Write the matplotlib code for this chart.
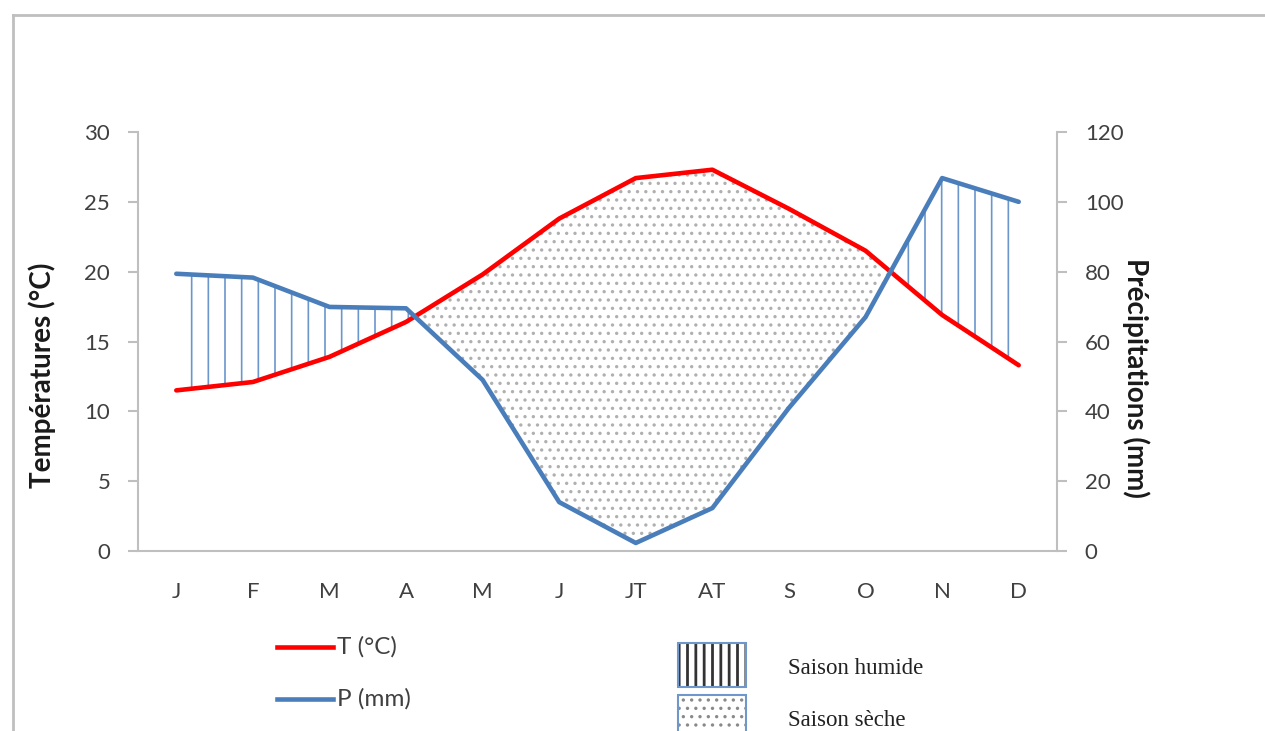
import numpy as np
import matplotlib
matplotlib.use("Agg")
import matplotlib.pyplot as plt
from matplotlib.lines import Line2D
from matplotlib.patches import Rectangle

months = ["J", "F", "M", "A", "M", "J", "JT", "AT", "S", "O", "N", "D"]
temp = [11.5, 12.1, 13.9, 16.4, 19.8, 23.8, 26.7, 27.3, 24.5, 21.5, 16.9, 13.3]
precip = [79.4, 78.3, 69.9, 69.5, 49.0, 14.0, 2.3, 12.3, 41.0, 67.0, 106.8, 100.0]

plt.rcParams['font.family'] = ['Lato', 'DejaVu Sans']
plt.rcParams['hatch.linewidth'] = 1.2

W, H = 1265, 731
fig = plt.figure(figsize=(W / 100, H / 100), dpi=100)

def fx(px):
    return px / W

def fy(py):
    return 1 - py / H

ax = fig.add_axes([fx(138), fy(551), fx(1057) - fx(138), fy(132) - fy(551)])
ax2 = ax.twinx()

x = np.arange(len(months))
t = np.array(temp)
p4 = np.array(precip) / 4.0  # precip on the temperature scale (120 mm <-> 30 C)

# saisons
ax.fill_between(x, t, p4, where=p4 >= t, interpolate=True, facecolor='none',
                edgecolor='#6a96cc', hatch='|', linewidth=0)
ax.fill_between(x, t, p4, where=p4 <= t, interpolate=True, facecolor='none',
                edgecolor='#b0b0b0', hatch='..', linewidth=0)

ax.plot(x, t, color='#ff0000', lw=3.3, solid_capstyle='round', zorder=3)
ax2.plot(x, precip, color='#4a7ebb', lw=3.3, solid_capstyle='round', zorder=3)

ax.set_xlim(-0.5, 11.5)
ax.set_ylim(0, 30)
ax2.set_ylim(0, 120)
ax.set_yticks(range(0, 31, 5))
ax2.set_yticks(range(0, 121, 20))
ax.set_xticks(x)
ax.set_xticklabels(months)

grey = '#bfbfbf'
txt = '#404040'
for a in (ax, ax2):
    for s in a.spines.values():
        s.set_visible(False)
        s.set_color(grey)
        s.set_linewidth(1.5)
ax.spines['left'].set_visible(True)
ax.spines['bottom'].set_visible(True)
ax2.spines['right'].set_visible(True)

ax.tick_params(axis='y', length=7, width=1.5, color=grey, labelsize=16,
               labelcolor=txt, pad=13)
ax2.tick_params(axis='y', length=7, width=1.5, color=grey, labelsize=16,
                labelcolor=txt, pad=13)
ax.tick_params(axis='x', length=0, labelsize=16, labelcolor=txt, pad=22)

ax.set_ylabel("Températures (°C)", fontsize=20, fontweight='bold', color='#1a1a1a')
ax.yaxis.set_label_coords(-0.089, 0.42)
ax2.set_ylabel("Précipitations (mm)", fontsize=20, fontweight='bold',
               color='#1a1a1a', rotation=270, va='center')
ax2.yaxis.set_label_coords(1.086, 0.413)

# cadre
fig.add_artist(Line2D([fx(13), fx(13)], [fy(15), 0], color=grey, lw=2))
fig.add_artist(Line2D([fx(13), 1], [fy(15), fy(15)], color=grey, lw=2))

# legende
fig.add_artist(Line2D([fx(277), fx(333)], [fy(647), fy(647)], color='#ff0000', lw=3.3))
fig.add_artist(Line2D([fx(277), fx(333)], [fy(699), fy(699)], color='#4a7ebb', lw=3.3))
fig.text(fx(337), fy(647), "T (°C)", fontsize=17.5, color=txt, va='center')
fig.text(fx(337), fy(699), "P (mm)", fontsize=17.5, color=txt, va='center')

for top, hatch, col, hlw in [(643, '||', '#333333', 2.0), (695, '..', '#8a8a8a', 1.2)]:
    r = Rectangle((fx(678), fy(top + 44)), fx(746) - fx(678), fy(top) - fy(top + 44),
                  transform=fig.transFigure, facecolor='white', edgecolor=col,
                  hatch=hatch, lw=0)
    if hasattr(r, 'set_hatch_linewidth'):
        r.set_hatch_linewidth(hlw)
    fig.add_artist(r)
    b = Rectangle((fx(678), fy(top + 44)), fx(746) - fx(678), fy(top) - fy(top + 44),
                  transform=fig.transFigure, fill=False, edgecolor='#6f97cb', lw=1.5)
    fig.add_artist(b)

fig.text(fx(788), fy(669), "Saison humide", fontsize=16.5, color='#222222',
         va='center', family='Liberation Serif')
fig.text(fx(788), fy(720), "Saison sèche", fontsize=16.5, color='#222222',
         va='center', family='Liberation Serif')

fig.savefig("out.png", dpi=100)
